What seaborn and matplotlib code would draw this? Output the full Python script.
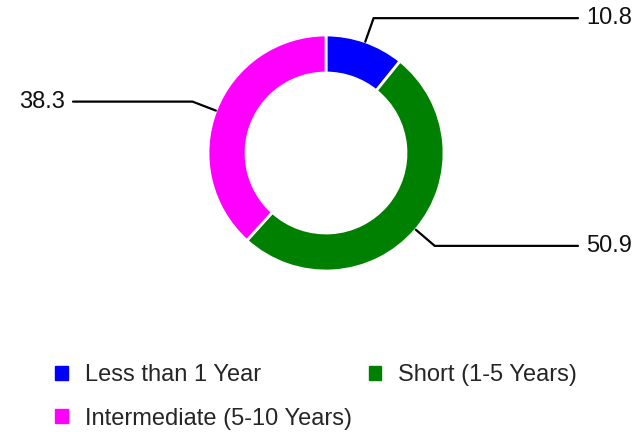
import numpy as np
import matplotlib
matplotlib.use("Agg")
import matplotlib.pyplot as plt
import matplotlib.patches as mpatches
import seaborn as sns

# maturity buckets and their share (%)
categories = ["Less than 1 Year", "Short (1-5 Years)", "Intermediate (5-10 Years)"]
values = [10.8, 50.9, 38.3]
colors = ["#0000ff", "#008000", "#ff00ff"]

sns.set_theme(style="white")
plt.rcParams["font.family"] = ["Liberation Sans", "DejaVu Sans"]

fig = plt.figure(figsize=(6.4, 4.32), dpi=100)
ax = fig.add_axes([0, 0, 1, 1])

cx, cy, R = 326, 432 - 153, 118
wedges, _ = ax.pie(values, colors=colors, startangle=90, counterclock=False,
                   center=(cx, cy), radius=R, frame=True,
                   wedgeprops=dict(width=38, edgecolor="white", linewidth=2))
ax.set_xlim(0, 640)
ax.set_ylim(0, 432)
ax.set_aspect("equal")
ax.axis("off")

# leader lines with labels
for w, v in zip(wedges, values):
    ang = np.deg2rad((w.theta1 + w.theta2) / 2)
    x0, y0 = cx + R * np.cos(ang), cy + R * np.sin(ang)
    x1, y1 = cx + 143 * np.cos(ang), cy + 143 * np.sin(ang)
    if np.cos(ang) >= 0:
        x2, ha, tx = 578, "left", 586
    else:
        x2, ha, tx = 73, "right", 65
    ax.plot([x0, x1, x2], [y0, y1, y1], color="black", lw=1.6,
            solid_joinstyle="miter")
    ax.text(tx, y1, f"{v}", ha=ha, va="center", fontsize=17, color="#111111")

# legend laid out row-wise
order = [0, 2, 1]
handles = [mpatches.Patch(color=colors[i], label=categories[i]) for i in order]
ax.legend(handles=handles, ncol=2, frameon=False, fontsize=17,
          loc="upper left", bbox_to_anchor=(55 / 640, 1 - 364 / 432),
          handlelength=0.55, handleheight=0.55, handletextpad=0.7,
          columnspacing=0.72, labelspacing=0.92, borderpad=0, borderaxespad=0)

fig.savefig("out.png", dpi=100)
